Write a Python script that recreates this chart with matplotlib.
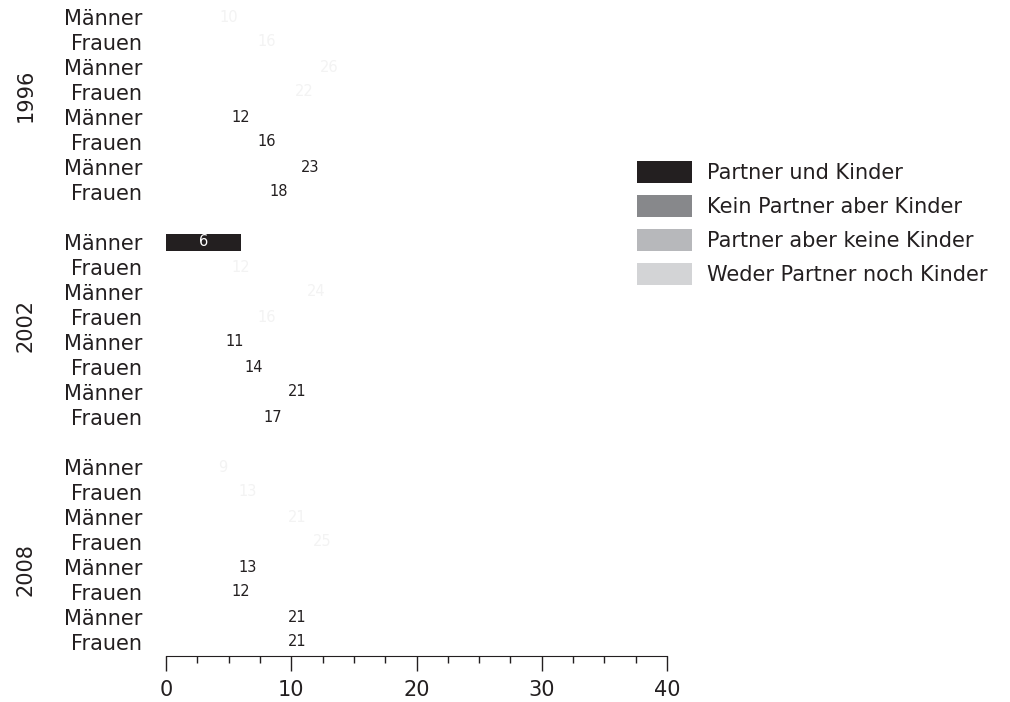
import matplotlib
matplotlib.use("Agg")
from matplotlib import pyplot as plt
from matplotlib.patches import Patch
from matplotlib.ticker import MultipleLocator

plt.rcParams['font.family'] = ['DejaVu Sans']

years = ["1996", "2002", "2008"]
sexes = ["Männer", "Frauen"] * 4
categories = ["Partner und Kinder", "Kein Partner aber Kinder",
              "Partner aber keine Kinder", "Weder Partner noch Kinder"]
cat_colors = ["#231f20", "#87888b", "#b7b8bb", "#d3d4d6"]

values_1996 = [10, 16, 26, 22, 12, 16, 23, 18]
values_2002 = [6, 12, 24, 16, 11, 14, 21, 17]
values_2008 = [9, 13, 21, 25, 13, 12, 21, 21]
values = [values_1996, values_2002, values_2008]

# only this bar actually shows up in the original
shown_bars = [("2002", 0)]

fig = plt.figure(figsize=(10.1, 7.02), dpi=100)
ax = fig.add_axes([166 / 1010, 1 - 656 / 702, 501 / 1010, 656 / 702])

ypos, ylabels = [], []
for g, year in enumerate(years):
    for i, v in enumerate(values[g]):
        y = g * 9 + i
        ypos.append(y)
        ylabels.append(sexes[i])
        cat = i // 2
        shown = (year, i) in shown_bars
        ax.barh(y, v, height=0.68, color=cat_colors[cat], alpha=1 if shown else 0)
        tc = "#f3f3f3" if cat < 2 else "#231f20"
        if shown:
            tc = "white"
        ax.text(v / 2, y, str(v), ha="center", va="center", fontsize=10.5, color=tc)

ax.set_yticks(ypos)
ax.set_yticklabels(ylabels, fontsize=15, color="#231f20")
ax.tick_params(axis="y", length=0, pad=17)

ax.set_xlim(0, 40)
ax.set_ylim(25.56, -0.68)
ax.xaxis.set_major_locator(MultipleLocator(10))
ax.xaxis.set_minor_locator(MultipleLocator(2.5))
ax.tick_params(axis="x", which="major", length=11, width=1, color="#231f20",
               labelsize=15, labelcolor="#231f20", pad=6)
ax.tick_params(axis="x", which="minor", length=5, width=1, color="#231f20")
for s in ["top", "left", "right"]:
    ax.spines[s].set_visible(False)
ax.spines["bottom"].set_color("#231f20")

# year labels
year_y = [3.12, 12.36, 22.12]
for year, yy in zip(years, year_y):
    ax.text(-11.2, yy, year, rotation=90, ha="center", va="center",
            fontsize=15, color="#231f20", clip_on=False)

handles = [Patch(facecolor=c, edgecolor="none") for c in cat_colors]
fig.legend(handles, categories, loc="upper left", bbox_to_anchor=(618 / 1010, 1 - 142 / 702),
           frameon=False, fontsize=15, handlelength=2.65, handleheight=1.25,
           labelspacing=0.58, handletextpad=0.72, labelcolor="#231f20")

fig.savefig("out.png", dpi=100)
